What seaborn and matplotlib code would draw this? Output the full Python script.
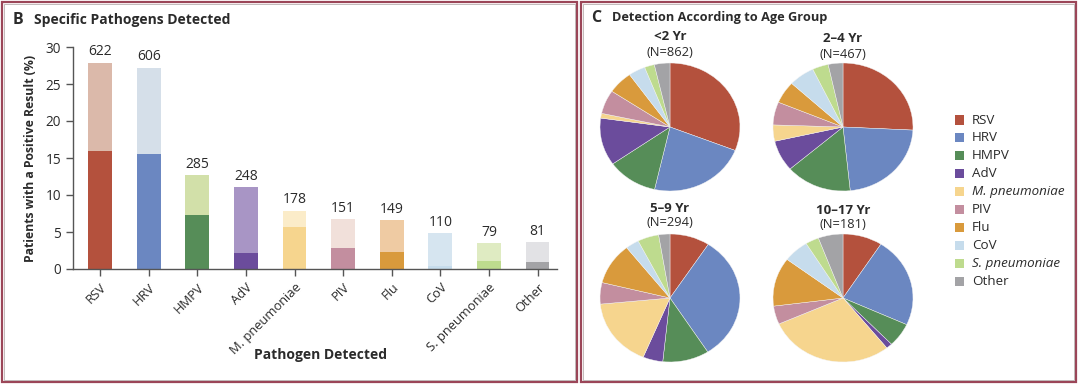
import numpy as np
import pandas as pd
import matplotlib
matplotlib.use("Agg")
import matplotlib.pyplot as plt
import seaborn as sns
from matplotlib.patches import Rectangle

# ---------------- data ----------------
pathogens = ["RSV", "HRV", "HMPV", "AdV", "M. pneumoniae", "PIV", "Flu", "CoV",
             "S. pneumoniae", "Other"]
total_pct = [27.9, 27.2, 12.7, 11.1, 7.9, 6.7, 6.6, 4.8, 3.5, 3.6]
sole_pct = [16.0, 15.6, 7.35, 2.2, 5.7, 2.9, 2.35, 0.45, 1.05, 0.95]
counts = [622, 606, 285, 248, 178, 151, 149, 110, 79, 81]

dark_colors = ["#b4513d", "#6b87c1", "#568d58", "#6b4c9c", "#f6d58e", "#c38e9f",
               "#d99a3c", "#c6dcec", "#bedb8e", "#a3a3a6"]
light_colors = ["#dbb9aa", "#d5dfe9", "#d2e0a9", "#a895c5", "#fbecc9", "#f1e0da",
                "#efcba3", "#d6e5f0", "#dfebc2", "#e2e2e5"]

age_groups = ["<2 Yr", "2\u20134 Yr", "5\u20139 Yr", "10\u201317 Yr"]
age_n = [862, 467, 294, 181]
age_shares = {
    "<2 Yr":      [31.0, 22.6, 11.7, 12.0, 1.2, 6.0, 5.8, 3.9, 2.3, 3.6],
    "2\u20134 Yr":  [25.8, 22.6, 15.3, 7.8, 4.1, 5.8, 5.6, 6.0, 3.7, 3.4],
    "5\u20139 Yr":  [9.2, 31.7, 10.7, 4.6, 17.2, 5.4, 10.5, 3.1, 4.9, 2.6],
    "10\u201317 Yr": [9.1, 22.7, 6.0, 1.4, 29.1, 4.6, 12.3, 5.9, 3.1, 5.7],
}

df = pd.DataFrame({"pathogen": pathogens, "total": total_pct, "sole": sole_pct})

# ---------------- figure ----------------
sns.set_theme(style="white")
plt.rcParams["font.family"] = ["Open Sans", "DejaVu Sans"]
txt = "#2b2b2b"

W, H = 1080, 387
fig = plt.figure(figsize=(W / 100, H / 100), dpi=100)
fig.patch.set_facecolor("white")

def fx(px):
    return px / W

def fy(py):
    return 1 - py / H

# panel borders
border = "#9b4658"
for (x0, x1) in [(2, 577), (581, 1076)]:
    fig.patches.append(Rectangle((fx(x0), fy(382)), fx(x1 - x0), 380 / H,
                                 transform=fig.transFigure, fill=False,
                                 edgecolor=border, lw=1.6, zorder=10))
    fig.patches.append(Rectangle((fx(x0 + 2), fy(380)), fx(x1 - x0 - 4), 376 / H,
                                 transform=fig.transFigure, fill=False,
                                 edgecolor="#b8b0b0", lw=0.6, zorder=10))

# ---------------- panel B: bars ----------------
axb = fig.add_axes([fx(73), fy(269), fx(557 - 73), (269 - 47) / H])
sns.barplot(data=df, x="pathogen", y="total", hue="pathogen", palette=light_colors,
            legend=False, width=0.49, ax=axb, saturation=1, linewidth=0)
sns.barplot(data=df, x="pathogen", y="sole", hue="pathogen", palette=dark_colors,
            legend=False, width=0.49, ax=axb, saturation=1, linewidth=0)
axb.set_ylim(0, 30)
axb.set_xlim(-0.56, 9.4)
axb.set_yticks(range(0, 31, 5))
for i, (t, c) in enumerate(zip(total_pct, counts)):
    axb.text(i, t + 0.45, str(c), ha="center", va="bottom", fontsize=10, color=txt)
for s in ["top", "right"]:
    axb.spines[s].set_visible(False)
for s in ["left", "bottom"]:
    axb.spines[s].set_color("#555555")
    axb.spines[s].set_linewidth(1.0)
axb.tick_params(axis="y", direction="out", length=5, width=1,
                color="#555555", labelsize=9.8, labelcolor=txt, left=True)
axb.tick_params(axis="x", direction="out", length=5, width=1,
                color="#555555", labelsize=9.3, labelcolor=txt, bottom=True)
axb.set_xticks(range(len(pathogens)))
axb.set_xticklabels(pathogens, rotation=45, ha="right", rotation_mode="anchor")
axb.set_ylabel("Patients with a Positive Result (%)", fontsize=8.8, fontweight="bold",
               color=txt, labelpad=6)
axb.set_xlabel("")
fig.text(fx(320), fy(355), "Pathogen Detected", ha="center", va="center",
         fontsize=10, fontweight="bold", color=txt)
fig.text(fx(13), fy(20), "B", ha="left", va="center", fontsize=11.5,
         fontweight="bold", color=txt)
fig.text(fx(34), fy(20), "Specific Pathogens Detected", ha="left", va="center",
         fontsize=10, fontweight="bold", color=txt)

# ---------------- panel C: pies ----------------
fig.text(fx(591), fy(18), "C", ha="left", va="center", fontsize=11.5,
         fontweight="bold", color=txt)
fig.text(fx(612), fy(18), "Detection According to Age Group", ha="left", va="center",
         fontsize=9.2, fontweight="bold", color=txt)

centers = [(670, 127), (843, 127), (670, 298), (843, 298)]
title_y = [(37, 52), (39, 54), (208, 223), (210, 225)]
rx, ry = 70, 64
for grp, n, (cx, cy), (ty1, ty2) in zip(age_groups, age_n, centers, title_y):
    ax = fig.add_axes([fx(cx - rx), fy(cy + ry), fx(2 * rx), 2 * ry / H])
    ax.pie(age_shares[grp], colors=dark_colors, startangle=90, counterclock=False,
           wedgeprops=dict(linewidth=0.3, edgecolor="#f4f4f4"), radius=1)
    ax.set_aspect("auto")
    ax.set_xlim(-1, 1)
    ax.set_ylim(-1, 1)
    ax.axis("off")
    fig.text(fx(cx), fy(ty1), grp, ha="center", va="center", fontsize=9.5,
             fontweight="bold", color=txt)
    fig.text(fx(cx), fy(ty2), f"(N={n})", ha="center", va="center", fontsize=9.3,
             color=txt)

# legend
for i, (name, col) in enumerate(zip(pathogens, dark_colors)):
    y = 120 + i * 17.9
    fig.patches.append(Rectangle((fx(955), fy(y + 4.5)), fx(9), 9 / H,
                                 transform=fig.transFigure, facecolor=col,
                                 edgecolor="none"))
    style = "italic" if "pneumoniae" in name else "normal"
    fig.text(fx(972), fy(y), name, ha="left", va="center", fontsize=9.6,
             color=txt, style=style)

fig.savefig("out.png", dpi=100, facecolor="white")
